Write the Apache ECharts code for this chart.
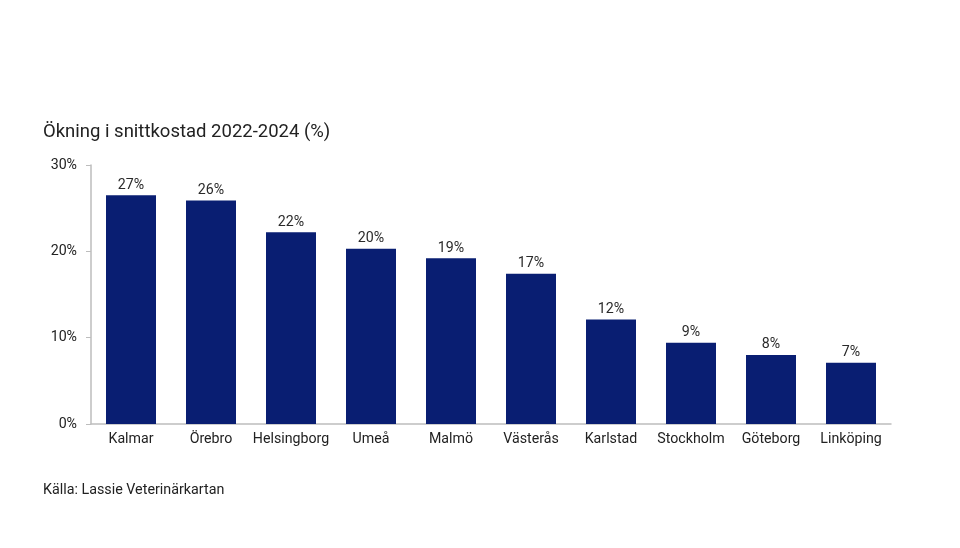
<!DOCTYPE html>
<html><head><meta charset="utf-8">
<script src="https://cdn.jsdelivr.net/npm/echarts@6/dist/echarts.min.js"></script>
<style>html,body{margin:0;padding:0;background:#fff}#c{width:960px;height:548px}</style>
</head><body><div id="c"></div>
<script>
const categories = ['Kalmar','Örebro','Helsingborg','Umeå','Malmö','Västerås','Karlstad','Stockholm','Göteborg','Linköping'];
const values = [26.5, 25.9, 22.2, 20.3, 19.2, 17.4, 12.1, 9.4, 8.0, 7.1];
const yTicks = [0, 10, 20, 30];
const titleText = 'Ökning i snittkostad 2022-2024 (%)';
const sourceText = 'Källa: Lassie Veterinärkartan';

const chart = echarts.init(document.getElementById('c'));
chart.setOption({
  animation: false,
  textStyle: { fontFamily: 'Roboto' },
  title: [
    { text: titleText, left: 38, top: 118, textStyle: { fontFamily: 'Roboto', fontSize: 18.5, fontWeight: 'normal', color: '#222' } },
    { text: sourceText, left: 38, top: 478, textStyle: { fontFamily: 'Roboto', fontSize: 14.3, fontWeight: 'normal', color: '#222' } }
  ],
  grid: { left: 91, right: 69, top: 165, bottom: 124, containLabel: false },
  xAxis: {
    type: 'category', data: categories,
    axisLine: { lineStyle: { color: '#bdbdbd', width: 1.5 } },
    axisTick: { show: false },
    axisLabel: { color: '#222', fontSize: 14.2, margin: 8, interval: 0 }
  },
  yAxis: {
    type: 'value', min: yTicks[0], max: yTicks[yTicks.length - 1], interval: 10,
    axisLine: { show: true, lineStyle: { color: '#bdbdbd', width: 1.5 } },
    axisTick: { show: true, length: 5, lineStyle: { color: '#bdbdbd' } },
    splitLine: { show: false },
    axisLabel: { color: '#222', fontSize: 14.2, margin: 14, formatter: v => v + '%' }
  },
  series: [{
    type: 'bar', data: values, barWidth: '62.5%',
    itemStyle: { color: '#091e72' },
    label: { show: true, position: 'top', distance: 3, color: '#2a2a2a', fontSize: 14.2, formatter: p => Math.round(p.value) + '%' }
  }]
});
</script></body></html>
